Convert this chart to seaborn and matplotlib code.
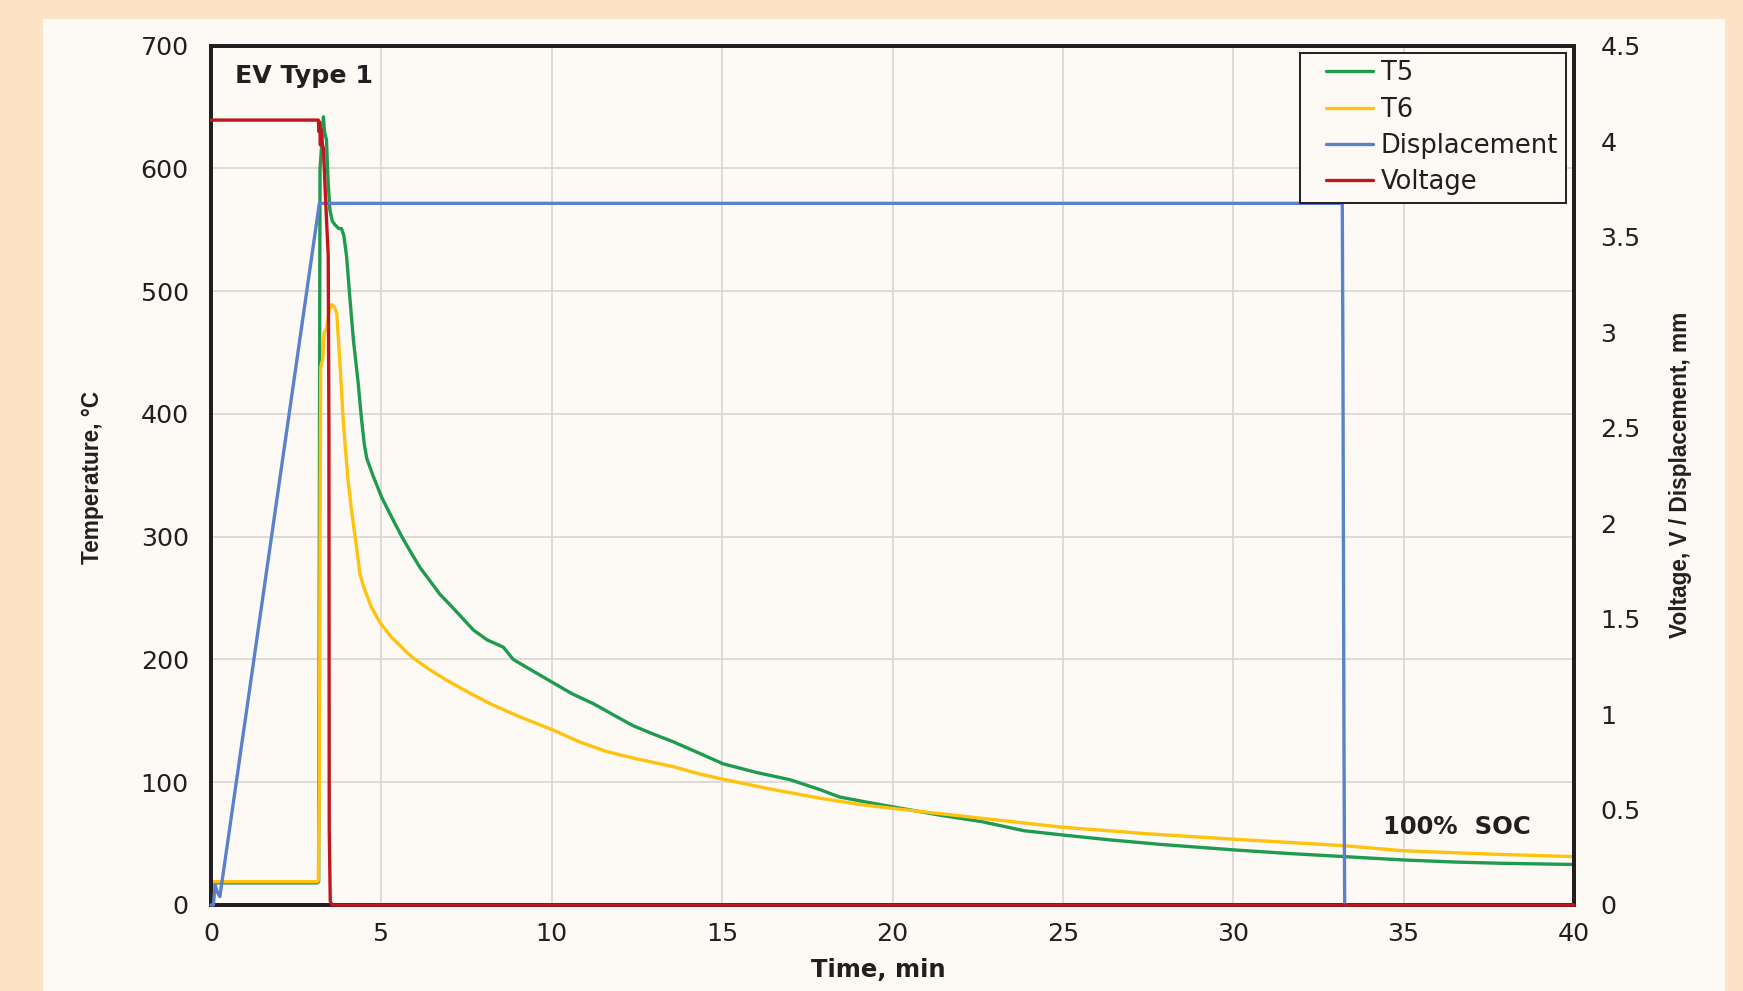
import matplotlib
matplotlib.use("Agg")
import matplotlib.pyplot as plt
from matplotlib.patches import Rectangle
from matplotlib.ticker import FuncFormatter
from matplotlib.legend_handler import HandlerLine2D
from matplotlib.lines import Line2D
from matplotlib import font_manager
import seaborn as sns

# ---------------- data ----------------
time_t5 = [0, 3.12, 3.16, 3.18, 3.19, 3.20, 3.25, 3.30, 3.33, 3.39, 3.42, 3.44, 3.49,
           3.56, 3.64, 3.75, 3.83, 3.90, 3.98, 4.08, 4.18, 4.32, 4.42, 4.50, 4.57,
           4.75, 5.01, 5.30, 5.60, 5.85, 6.13, 6.40, 6.72, 7.00, 7.30, 7.70, 8.10,
           8.58, 8.87, 9.30, 10.04, 10.60, 11.22, 11.80, 12.39, 13.00, 13.56, 14.30,
           15.03, 16.00, 17.00, 17.87, 18.44, 19.20, 20.00, 21.43, 22.60, 23.86,
           25.00, 26.40, 27.85, 29.00, 30.06, 31.60, 33.27, 34.98, 36.50, 37.82, 40.0]
t5 = [18, 18, 19, 320, 480, 600, 620, 642, 630, 623, 600, 588, 566,
      557, 554, 551, 551, 545, 528, 493, 460, 425, 395, 375, 364,
      350, 332, 316, 300, 288, 275, 265, 253, 245, 236, 224, 216,
      210, 200, 193, 181, 172, 164, 155, 146, 139, 133, 124,
      115, 108, 102, 94, 88, 84, 80, 73, 68, 60.5,
      57, 53, 49.4, 47, 44.8, 42, 39.4, 36.7, 35, 34, 33]

time_t6 = [0, 3.12, 3.15, 3.18, 3.20, 3.22, 3.28, 3.32, 3.40, 3.47, 3.54, 3.62, 3.69,
           3.79, 3.88, 3.95, 4.03, 4.13, 4.23, 4.37, 4.47, 4.70, 4.96, 5.30, 5.74,
           5.94, 6.40, 6.92, 7.50, 8.19, 9.00, 10.04, 10.80, 11.61, 12.50, 13.56,
           14.30, 15.03, 16.50, 17.87, 19.00, 20.00, 22.50, 25.00, 27.50, 30.06,
           33.27, 34.98, 37.50, 40.0]
t6 = [19, 19, 20, 100, 300, 438, 445, 466, 470, 485, 489, 487, 482,
      438, 395, 370, 344, 320, 300, 270, 260, 243, 230, 218, 206,
      201, 192, 183, 174, 164, 154, 142.5, 133, 125, 119, 112.7,
      107, 102.4, 94, 87, 82, 78.7, 71, 63.3, 58, 53.5,
      48.3, 44.2, 41.5, 39.4]

time_disp = [0, 0.07, 0.12, 0.18, 0.26, 3.18, 33.20, 33.22, 33.25, 33.27]
disp = [0, 0, 0.105, 0.07, 0.044, 3.674, 3.674, 2.8, 0.8, 0]

time_volt = [0, 3.15, 3.17, 3.19, 3.21, 3.23, 3.26, 3.30, 3.35, 3.40, 3.44,
             3.46, 3.47, 3.50, 3.55, 40.0]
volt = [4.11, 4.11, 4.05, 4.10, 3.98, 4.06, 3.99, 3.96, 3.75, 3.55, 3.40,
        2.5, 0.4, 0.02, 0, 0]

series_labels = ["T5", "T6", "Displacement", "Voltage"]
series_colors = ["#1F9B4F", "#FFC20E", "#5B80CE", "#C0161D"]

x_ticks = [0, 5, 10, 15, 20, 25, 30, 35, 40]
temp_ticks = [0, 100, 200, 300, 400, 500, 600, 700]
volt_ticks = [0, 0.5, 1, 1.5, 2, 2.5, 3, 3.5, 4, 4.5]

# ---------------- style ----------------
PEACH = "#FCE3C6"
PANEL = "#FDFAF5"
INK = "#231F20"
GRID = "#D9D6D2"
TICK_FS = 18.3
LEG_FS = 18.5

sns.set_theme(style="white")
plt.rcParams["font.family"] = ["DejaVu Sans"]
plt.rcParams["text.color"] = INK

installed = {f.name for f in font_manager.fontManager.ttflist}
if "Liberation Sans Narrow" in installed:
    vfam, vsize = ["Liberation Sans Narrow", "DejaVu Sans"], 20.3
elif "DejaVu Sans Condensed" in installed:
    vfam, vsize = ["DejaVu Sans Condensed", "DejaVu Sans"], 15.5
else:
    vfam, vsize = ["Liberation Sans", "DejaVu Sans"], 16.3

fig = plt.figure(figsize=(17.43, 9.91), dpi=100, facecolor=PEACH)
fig.patches.append(Rectangle((43 / 1743, 0), (1725 - 43) / 1743, (991 - 19) / 991,
                             transform=fig.transFigure, facecolor=PANEL,
                             edgecolor="none", zorder=-10))

ax1 = fig.add_axes([211 / 1743, 1 - 905 / 991, (1574 - 211) / 1743, (905 - 45.6) / 991])
ax1.set_facecolor(PANEL)
ax2 = ax1.twinx()

lw = 2.4
sns.lineplot(x=time_t5, y=t5, ax=ax1, color=series_colors[0], linewidth=lw,
             estimator=None, sort=False, legend=False)
sns.lineplot(x=time_t6, y=t6, ax=ax1, color=series_colors[1], linewidth=lw,
             estimator=None, sort=False, legend=False)
sns.lineplot(x=time_disp, y=disp, ax=ax2, color=series_colors[2], linewidth=lw,
             estimator=None, sort=False, legend=False)
sns.lineplot(x=time_volt, y=volt, ax=ax2, color=series_colors[3], linewidth=lw,
             estimator=None, sort=False, legend=False)
for ln in ax2.lines:
    ln.set_clip_on(False)
    ln.set_zorder(3)

ax1.set_xlim(0, 40)
ax1.set_ylim(0, 700)
ax2.set_ylim(0, 4.5)
ax1.set_xticks(x_ticks)
ax1.set_yticks(temp_ticks)
ax2.set_yticks(volt_ticks)
ax2.yaxis.set_major_formatter(FuncFormatter(lambda v, p: f"{v:g}"))

ax1.grid(True, color=GRID, linewidth=1.2)
ax2.grid(False)
ax1.set_axisbelow(True)

ax1.tick_params(axis="x", length=0, pad=12, labelsize=TICK_FS, labelcolor=INK)
ax1.tick_params(axis="y", length=0, pad=16, labelsize=TICK_FS, labelcolor=INK)
ax2.tick_params(axis="y", length=0, pad=19, labelsize=TICK_FS, labelcolor=INK)
ax1.set_xlabel("")
ax1.set_ylabel("")
ax2.set_ylabel("")

for ax in (ax1, ax2):
    for s in ax.spines.values():
        s.set_visible(True)
        s.set_color(INK)
        s.set_linewidth(2.8)

# axis titles
fig.text(878 / 1743, 1 - 970 / 991, "Time, min", ha="center", va="center",
         fontsize=17.5, fontweight="bold", color=INK)
fig.text(92 / 1743, 1 - 477 / 991, "Temperature, \u00b0C", rotation=90,
         ha="center", va="center", fontsize=vsize, fontweight="bold", color=INK,
         family=vfam)
fig.text(1680 / 1743, 1 - 475 / 991, "Voltage, V / Displacement, mm", rotation=90,
         ha="center", va="center", fontsize=vsize, fontweight="bold", color=INK,
         family=vfam)

# annotations
ax1.text(0.0176, 0.9646, "EV Type 1", transform=ax1.transAxes, ha="left",
         va="center", fontsize=18.2, fontweight="bold", color=INK)
ax1.text(0.860, 0.0908, "100%  SOC", transform=ax1.transAxes, ha="left",
         va="center", fontsize=17.5, fontweight="bold", color=INK)


# legend: handle line inset from the frame's left edge, as in the reference
class InsetLineHandler(HandlerLine2D):
    def __init__(self, inset, **kw):
        super().__init__(**kw)
        self.inset = inset

    def create_artists(self, legend, orig_handle, xdescent, ydescent, width,
                       height, fontsize, trans):
        artists = super().create_artists(legend, orig_handle, xdescent, ydescent,
                                         width, height, fontsize, trans)
        for a in artists:
            if isinstance(a, Line2D):
                xd = list(a.get_xdata())
                if len(xd) >= 2:
                    a.set_xdata([xd[0] + self.inset, xd[-1]])
                    a.set_ydata([a.get_ydata()[0]] * 2)
        return artists


handles = list(ax1.lines) + list(ax2.lines)
handler = InsetLineHandler(inset=13.5)
leg = ax2.legend(handles, series_labels, loc="upper right",
                 bbox_to_anchor=(0.9941, 0.9917), borderaxespad=0,
                 fontsize=LEG_FS, frameon=True, fancybox=False, framealpha=1,
                 facecolor=PANEL, edgecolor=INK, handlelength=2.55,
                 handletextpad=0.3, labelspacing=0.4, borderpad=0.3,
                 handler_map={h: handler for h in handles})
leg.get_frame().set_linewidth(1.4)
for t in leg.get_texts():
    t.set_color(INK)

fig.savefig("out.png", dpi=100, facecolor=PEACH)
